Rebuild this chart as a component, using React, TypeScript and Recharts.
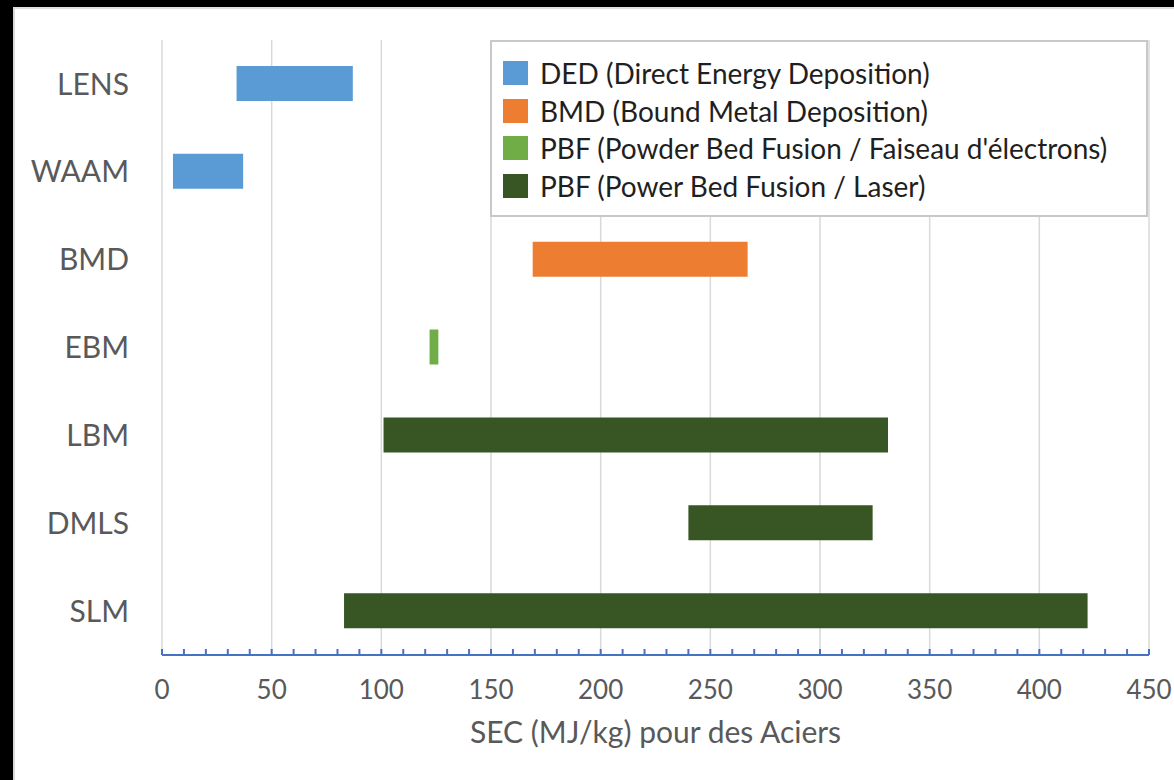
import React from "react"
import {
  BarChart,
  Bar,
  Cell,
  XAxis,
  YAxis,
  CartesianGrid,
  Legend,
} from "recharts"

// Procédés de fabrication additive et plage de SEC (MJ/kg) pour des aciers
const procedes = ["LENS", "WAAM", "BMD", "EBM", "LBM", "DMLS", "SLM"]
const secMin = [34, 5, 169, 122, 101, 240, 83]
const secMax = [87, 37, 267, 126, 331, 324, 422]
const familleDe = ["ded", "ded", "bmd", "pbfEbm", "pbfLaser", "pbfLaser", "pbfLaser"]

const familles = [
  { key: "ded", label: "DED (Direct Energy Deposition)", color: "#5b9bd5" },
  { key: "bmd", label: "BMD (Bound Metal Deposition)", color: "#ed7d31" },
  { key: "pbfEbm", label: "PBF (Powder Bed Fusion / Faiseau d'électrons)", color: "#70ad47" },
  { key: "pbfLaser", label: "PBF (Power Bed Fusion / Laser)", color: "#375623" },
]

const ticksMajeurs = [0, 50, 100, 150, 200, 250, 300, 350, 400, 450]
const pasMineur = 10
const ticksMineurs = Array.from({ length: 450 / pasMineur + 1 }, (_, i) => i * pasMineur)

const FONT = "Lato, 'Open Sans', sans-serif"
const GRIS = "#595959"
const BLEU_AXE = "#4472c4"

const data = procedes.map((nom, i) => ({
  name: nom,
  sec: [secMin[i], secMax[i]],
  famille: familleDe[i],
}))

const couleurFamille = (key: string) =>
  familles.find((f) => f.key === key)?.color ?? "#999"

function LegendeFamilles() {
  return (
    <div
      style={{
        boxSizing: "border-box",
        width: "100%",
        height: "100%",
        background: "#fff",
        border: "2px solid #c8c8c8",
        padding: "12px 0 0 11px",
        fontFamily: FONT,
      }}
    >
      {familles.map((f) => (
        <div
          key={f.key}
          style={{ display: "flex", alignItems: "center", height: 37.7 }}
        >
          <span
            style={{
              display: "inline-block",
              width: 25,
              height: 24,
              background: f.color,
              marginRight: 12,
            }}
          />
          <span style={{ fontSize: 28, color: "#1f1f1f", whiteSpace: "nowrap" }}>
            {f.label}
          </span>
        </div>
      ))}
    </div>
  )
}

export default function App() {
  return (
    <div
      style={{
        position: "fixed",
        left: 0,
        top: 0,
        width: 1174,
        height: 780,
        background: "#000",
      }}
    >
      <div
        style={{
          position: "absolute",
          left: 13,
          top: 7,
          right: 0,
          bottom: 0,
          background: "#fff",
          borderLeft: "2px solid #d9d9d9",
          borderTop: "2px solid #e0e0e0",
        }}
      />
      <div style={{ position: "absolute", left: 0, top: 0 }}>
        <BarChart
          width={1174}
          height={780}
          data={data}
          layout="vertical"
          margin={{ top: 40, right: 25, bottom: 0, left: 0 }}
          style={{ fontFamily: FONT }}
        >
          <CartesianGrid
            horizontal={false}
            stroke="#d9d9d9"
            strokeWidth={1.5}
            verticalValues={ticksMajeurs}
          />
          <XAxis
            type="number"
            domain={[0, 450]}
            ticks={ticksMineurs}
            interval={0}
            height={125}
            tickFormatter={(v: number) => (v % 50 === 0 ? String(v) : "")}
            axisLine={{ stroke: BLEU_AXE, strokeWidth: 2 }}
            tickLine={{ stroke: BLEU_AXE, strokeWidth: 2 }}
            tickSize={-6}
            tickMargin={32}
            tick={{ fontSize: 26, fill: GRIS, fontFamily: FONT }}
            label={{
              value: "SEC (MJ/kg) pour des Aciers",
              position: "insideBottom",
              offset: 37,
              fontSize: 30,
              fill: GRIS,
              fontFamily: FONT,
            }}
          />
          <YAxis
            type="category"
            dataKey="name"
            width={162}
            axisLine={false}
            tickLine={false}
            tickSize={0}
            tickMargin={33}
            tick={{ fontSize: 30, fill: GRIS, fontFamily: FONT }}
          />
          <Legend
            layout="vertical"
            align="center"
            verticalAlign="middle"
            wrapperStyle={{ top: 40, left: 490, width: 658, height: 177 }}
            content={() => <LegendeFamilles />}
          />
          <Bar dataKey="sec" barSize={35} isAnimationActive={false}>
            {data.map((d) => (
              <Cell key={d.name} fill={couleurFamille(d.famille)} />
            ))}
          </Bar>
        </BarChart>
      </div>
    </div>
  )
}
